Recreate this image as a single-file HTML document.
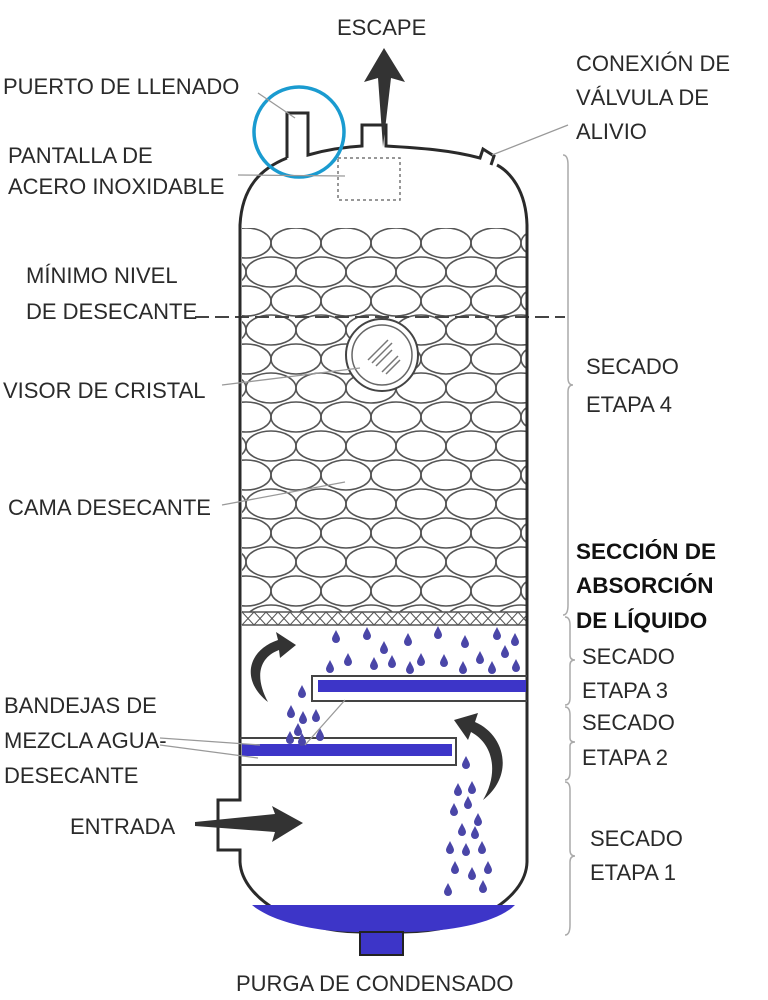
<!DOCTYPE html>
<html><head><meta charset="utf-8"><style>
html,body{margin:0;padding:0;background:#fff;}
svg{display:block;}
text{font-family:"Liberation Sans",sans-serif;font-size:22px;fill:#2a2a2a;}
.b{font-weight:bold;fill:#111;font-size:22.5px;}
</style></head><body>
<svg width="768" height="1000" viewBox="0 0 768 1000" xmlns="http://www.w3.org/2000/svg">
<defs>
<clipPath id="bed"><rect x="242" y="228" width="284" height="384"/></clipPath>
<path id="d" d="M0,-7 C2,-3 4,0 4,2 A4,4 0 0 1 -4,2 C-4,0 -2,-3 0,-7Z" fill="#4a46a8"/>
</defs>

<g clip-path="url(#bed)" fill="none" stroke="#555" stroke-width="1.6">
<g id="rowA">
<ellipse cx="246" cy="243" rx="25" ry="15"/><ellipse cx="296" cy="243" rx="25" ry="15"/><ellipse cx="346" cy="243" rx="25" ry="15"/><ellipse cx="396" cy="243" rx="25" ry="15"/><ellipse cx="446" cy="243" rx="25" ry="15"/><ellipse cx="496" cy="243" rx="25" ry="15"/><ellipse cx="546" cy="243" rx="25" ry="15"/>
</g>
<g id="rowB">
<ellipse cx="221" cy="272" rx="25" ry="15"/><ellipse cx="271" cy="272" rx="25" ry="15"/><ellipse cx="321" cy="272" rx="25" ry="15"/><ellipse cx="371" cy="272" rx="25" ry="15"/><ellipse cx="421" cy="272" rx="25" ry="15"/><ellipse cx="471" cy="272" rx="25" ry="15"/><ellipse cx="521" cy="272" rx="25" ry="15"/>
</g>
<use href="#rowA" y="58"/><use href="#rowB" y="58"/>
<use href="#rowA" y="116"/><use href="#rowB" y="116"/>
<use href="#rowA" y="174"/><use href="#rowB" y="174"/>
<use href="#rowA" y="232"/><use href="#rowB" y="232"/>
<use href="#rowA" y="290"/><use href="#rowB" y="290"/>
<use href="#rowA" y="348"/><use href="#rowB" y="348"/>
</g>
<g stroke="#555" stroke-width="1.6" fill="none">
<line x1="242" y1="612" x2="526" y2="612"/>
<line x1="242" y1="625" x2="526" y2="625"/>
<path d="M242,612 L254,625 L266,612 L278,625 L290,612 L302,625 L314,612 L326,625 L338,612 L350,625 L362,612 L374,625 L386,612 L398,625 L410,612 L422,625 L434,612 L446,625 L458,612 L470,625 L482,612 L494,625 L506,612 L518,625 L526,616" stroke-width="1"/>
<path d="M242,625 L254,612 L266,625 L278,612 L290,625 L302,612 L314,625 L326,612 L338,625 L350,612 L362,625 L374,612 L386,625 L398,612 L410,625 L422,612 L434,625 L446,612 L458,625 L470,612 L482,625 L494,612 L506,625 L518,612 L526,621" stroke-width="1"/>
</g>

<circle cx="382" cy="355" r="36" fill="#fff" stroke="#444" stroke-width="2"/>
<circle cx="382" cy="355" r="30" fill="#fff" stroke="#666" stroke-width="1.5"/>
<g stroke="#777" stroke-width="1.5">
<line x1="368" y1="360" x2="388" y2="340"/><line x1="372" y1="363" x2="392" y2="343"/><line x1="376" y1="366" x2="392" y2="350"/>
<line x1="382" y1="372" x2="398" y2="356"/><line x1="386" y1="374" x2="400" y2="360"/>
</g>

<line x1="195" y1="317" x2="565" y2="317" stroke="#444" stroke-width="2" stroke-dasharray="14,6"/>

<g fill="none" stroke="#2a2a2a" stroke-width="3">
<path d="M287,158 C262,168 242,186 240,225 L240,800 L218,800 L218,850 L240,850 L240,862 C242,900 300,932 360,932 L403,932 C470,932 526,900 527,862 L527,225 C526,190 510,172 497,165"/>
<path d="M287,158 L287,113 L308,113 L308,155 C325,150 345,147 362,146 L362,125 L386,125 L386,146 C420,148 450,150 480,158 L483,149 L494,156 L491,165"/>
</g>
<rect x="338" y="158" width="62" height="42" fill="none" stroke="#777" stroke-width="1.5" stroke-dasharray="3,3"/>
<path d="M383,147 L378,78 L364,82 L384,48 L405,82 L391,78 Z" fill="#333"/>
<circle cx="299" cy="132" r="45" fill="none" stroke="#1a9bd0" stroke-width="3.5"/>

<g fill="none" stroke="#444" stroke-width="2">
<path d="M527,676 L312,676 L312,701 L527,701"/>
<path d="M240,738 L456,738 L456,765 L240,765"/>
</g>
<rect x="318" y="680" width="208" height="12" fill="#3d35c8"/>
<rect x="242" y="744" width="210" height="12" fill="#3d35c8"/>
<path d="M252,905 L515,905 C500,920 460,932 403,932 L360,932 C310,932 270,920 252,905Z" fill="#3d35c8"/>
<rect x="360" y="932" width="43" height="23" fill="#3d35c8" stroke="#222" stroke-width="2"/>

<path d="M268,702 C240,680 248,650 278,640 L276,632 L296,645 L280,658 L279,650 C258,658 255,678 268,702Z" fill="#333"/>
<path d="M483,800 C515,775 505,735 475,722 L478,713 L454,720 L468,740 L471,732 C495,745 498,775 483,800Z" fill="#333"/>
<path d="M195,822 L275,814 L272,806 L303,823 L272,842 L275,832 L195,826Z" fill="#333"/>

<g>
<use href="#d" x="336" y="637"/><use href="#d" x="367" y="634"/><use href="#d" x="384" y="648"/><use href="#d" x="408" y="640"/><use href="#d" x="438" y="633"/><use href="#d" x="465" y="642"/><use href="#d" x="497" y="634"/><use href="#d" x="515" y="640"/>
<use href="#d" x="348" y="660"/><use href="#d" x="374" y="664"/><use href="#d" x="392" y="662"/><use href="#d" x="421" y="660"/><use href="#d" x="444" y="661"/><use href="#d" x="480" y="658"/><use href="#d" x="505" y="652"/><use href="#d" x="516" y="666"/>
<use href="#d" x="330" y="667"/><use href="#d" x="410" y="668"/><use href="#d" x="463" y="668"/><use href="#d" x="492" y="668"/>
<use href="#d" x="302" y="692"/><use href="#d" x="291" y="712"/><use href="#d" x="303" y="718"/><use href="#d" x="316" y="716"/><use href="#d" x="298" y="730"/><use href="#d" x="290" y="738"/><use href="#d" x="302" y="740"/><use href="#d" x="320" y="735"/>
<use href="#d" x="466" y="763"/><use href="#d" x="458" y="790"/><use href="#d" x="472" y="788"/><use href="#d" x="468" y="803"/><use href="#d" x="454" y="810"/><use href="#d" x="478" y="820"/><use href="#d" x="462" y="830"/><use href="#d" x="475" y="833"/>
<use href="#d" x="450" y="848"/><use href="#d" x="466" y="850"/><use href="#d" x="482" y="848"/><use href="#d" x="455" y="868"/><use href="#d" x="472" y="874"/><use href="#d" x="488" y="868"/><use href="#d" x="448" y="890"/><use href="#d" x="483" y="887"/>
</g>

<g stroke="#999" stroke-width="1.3" fill="none">
<line x1="258" y1="93" x2="295" y2="118"/>
<line x1="238" y1="175" x2="345" y2="176"/>
<line x1="222" y1="385" x2="360" y2="368"/>
<line x1="222" y1="505" x2="345" y2="482"/>
<line x1="160" y1="738" x2="260" y2="745"/>
<line x1="160" y1="745" x2="258" y2="758"/>
<line x1="305" y1="745" x2="345" y2="700"/>
<line x1="568" y1="125" x2="492" y2="155"/>
</g>
<g stroke="#aaa" stroke-width="1.5" fill="none">
<path d="M563,155 Q568,155 568,165 L568,378 Q568,385 573,385 Q568,385 568,392 L568,605 Q568,615 563,615"/>
<path d="M565,617 Q570,617 570,625 L570,655 Q570,660 575,660 Q570,660 570,665 L570,698 Q570,705 565,705"/>
<path d="M565,707 Q570,707 570,715 L570,738 Q570,742 575,742 Q570,742 570,746 L570,772 Q570,780 565,780"/>
<path d="M565,782 Q570,782 570,790 L570,850 Q570,856 575,856 Q570,856 570,862 L570,925 Q570,935 565,935"/>
</g>

<text x="337" y="35">ESCAPE</text>
<text x="3" y="94">PUERTO DE LLENADO</text>
<text x="8" y="163">PANTALLA DE</text>
<text x="8" y="194">ACERO INOXIDABLE</text>
<text x="26" y="283">MÍNIMO NIVEL</text>
<text x="26" y="319">DE DESECANTE</text>
<text x="3" y="398">VISOR DE CRISTAL</text>
<text x="8" y="515">CAMA DESECANTE</text>
<text x="4" y="713">BANDEJAS DE</text>
<text x="4" y="748">MEZCLA AGUA-</text>
<text x="4" y="783">DESECANTE</text>
<text x="70" y="834">ENTRADA</text>
<text x="236" y="991">PURGA DE CONDENSADO</text>
<text x="576" y="71">CONEXIÓN DE</text>
<text x="576" y="105">VÁLVULA DE</text>
<text x="576" y="139">ALIVIO</text>
<text x="586" y="374">SECADO</text>
<text x="586" y="412">ETAPA 4</text>
<text class="b" x="576" y="559">SECCIÓN DE</text>
<text class="b" x="576" y="593">ABSORCIÓN</text>
<text class="b" x="576" y="628">DE LÍQUIDO</text>
<text x="582" y="664">SECADO</text>
<text x="582" y="698">ETAPA 3</text>
<text x="582" y="730">SECADO</text>
<text x="582" y="765">ETAPA 2</text>
<text x="590" y="846">SECADO</text>
<text x="590" y="880">ETAPA 1</text>
</svg>
</body></html>
